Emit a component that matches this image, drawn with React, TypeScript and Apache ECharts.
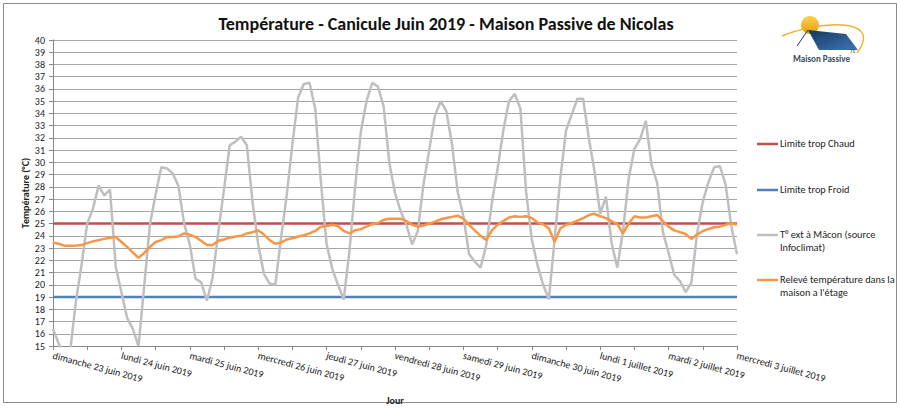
import React, { useEffect, useRef } from "react";
import * as echarts from "echarts";

// ---- Data ----
const dayLabels = [
  "dimanche 23 juin 2019",
  "lundi 24 juin 2019",
  "mardi 25 juin 2019",
  "mercredi 26 juin 2019",
  "jeudi 27 juin 2019",
  "vendredi 28 juin 2019",
  "samedi 29 juin 2019",
  "dimanche 30 juin 2019",
  "lundi 1 juillet 2019",
  "mardi 2 juillet 2019",
  "mercredi 3 juillet 2019",
];

const STEP_HOURS = 2; // one reading every 2 hours, starting dimanche 23 juin 00h

// T° ext à Mâcon (source Infoclimat)
const outdoorTemp = [
  16.4, 15.2, 14.2, 14.5, 18.6, 21.6, 25.0, 26.2, 28.1, 27.3, 27.8, 21.5,
  19.4, 17.3, 16.4, 15.0, 19.9, 24.9, 27.4, 29.6, 29.5, 29.1, 28.1, 25.0,
  23.3, 20.5, 20.2, 18.7, 20.6, 24.3, 27.8, 31.4, 31.7, 32.1, 31.4, 26.8,
  23.3, 20.9, 20.1, 20.0, 23.8, 27.3, 31.5, 35.3, 36.4, 36.5, 34.4, 28.4,
  23.3, 21.3, 20.0, 18.8, 22.7, 28.0, 32.5, 35.0, 36.5, 36.2, 34.6, 30.0,
  27.5, 26.0, 24.9, 23.3, 24.4, 28.2, 31.0, 33.8, 35.0, 34.2, 31.5, 27.6,
  25.6, 22.5, 21.9, 21.4, 23.2, 26.7, 29.5, 32.6, 35.0, 35.6, 34.4, 27.6,
  23.7, 21.6, 20.0, 18.8, 23.7, 28.7, 32.6, 33.9, 35.2, 35.2, 32.0, 29.3,
  25.8, 27.2, 23.4, 21.4, 24.4, 28.7, 31.1, 31.9, 33.4, 29.8, 28.3, 24.3,
  22.6, 20.8, 20.3, 19.4, 20.2, 24.2, 26.8, 28.4, 29.6, 29.7, 28.2, 24.8,
  22.5,
];

// Relevé température dans la maison a l'étage
const indoorTemp = [
  23.45, 23.35, 23.2, 23.2, 23.2, 23.25, 23.4, 23.55, 23.65, 23.75, 23.85, 23.9,
  23.5, 23.1, 22.65, 22.2, 22.6, 23.1, 23.5, 23.65, 23.9, 23.9, 23.95, 24.2,
  24.1, 23.9, 23.6, 23.25, 23.25, 23.6, 23.7, 23.85, 23.95, 24.0, 24.2, 24.3,
  24.45, 24.1, 23.65, 23.35, 23.45, 23.7, 23.8, 23.95, 24.05, 24.2, 24.4, 24.75,
  24.8, 24.9, 24.8, 24.4, 24.2, 24.45, 24.55, 24.75, 24.95, 25.05, 25.3, 25.4,
  25.4, 25.4, 25.2, 24.9, 24.75, 24.85, 25.0, 25.15, 25.35, 25.45, 25.55, 25.65,
  25.4, 24.9, 24.45, 24.0, 23.65, 24.45, 24.9, 25.2, 25.5, 25.6, 25.55, 25.6,
  25.45, 25.1, 24.95, 24.6, 23.5, 24.6, 24.9, 25.05, 25.25, 25.45, 25.7, 25.8,
  25.6, 25.45, 25.2, 24.95, 24.2, 25.0, 25.6, 25.5, 25.5, 25.6, 25.7, 25.2,
  24.75, 24.45, 24.3, 24.15, 23.75, 24.1, 24.4, 24.55, 24.7, 24.75, 24.9, 25.05,
  24.9,
];

const HOT_LIMIT = 25;
const COLD_LIMIT = 19;

const seriesNames = [
  "Limite trop Chaud",
  "Limite trop Froid",
  "T° ext à Mâcon (source Infoclimat)",
  "Relevé température dans la maison a l'étage",
];
const legendTexts = [
  "Limite trop Chaud",
  "Limite trop Froid",
  "T° ext à Mâcon (source\nInfoclimat)",
  "Relevé température dans la\nmaison a l'étage",
];
const seriesColors = ["#C0504D", "#4F81BD", "#BFBFBF", "#F79646"];

const TITLE = "Température - Canicule Juin 2019 - Maison Passive de Nicolas";
const Y_NAME = "Température (°C)";
const X_NAME = "Jour";

const FONT = "Carlito, Lato, 'Liberation Sans', sans-serif";

const hours = outdoorTemp.map((_, i) => i * STEP_HOURS);
const totalHours = (dayLabels.length - 1) * 24;

function pairs(values: number[]) {
  return values.map((v, i) => [hours[i], v]);
}

export default function App() {
  const ref = useRef<HTMLDivElement>(null);

  useEffect(() => {
    if (!ref.current) return;
    const chart = echarts.init(ref.current, undefined, { renderer: "svg" });

    const legendTops = [144, 190, 235, 280];
    const legendGraphics: any[] = [];
    legendTexts.forEach((t, i) => {
      legendGraphics.push({
        type: "line",
        shape: { x1: 757, y1: legendTops[i], x2: 778, y2: legendTops[i] },
        style: { stroke: seriesColors[i], lineWidth: 2.5 },
      });
      legendGraphics.push({
        type: "text",
        x: 780,
        y: legendTops[i] - 6.5,
        style: {
          text: t,
          fontSize: 10.3,
          fontFamily: FONT,
          fill: "#222",
          lineHeight: 12.5,
          textVerticalAlign: "top",
          verticalAlign: "top",
        },
      });
    });

    const option: any = {
      animation: false,
      backgroundColor: "#ffffff",
      textStyle: { fontFamily: FONT },
      title: {
        text: TITLE,
        left: 441,
        top: 10,
        textAlign: "center",
        textStyle: {
          fontFamily: FONT,
          fontSize: 18,
          fontWeight: "bold",
          color: "#111",
        },
      },
      grid: { left: 53, right: 163, top: 40, bottom: 61, containLabel: false },
      xAxis: {
        type: "value",
        min: 0,
        max: totalHours,
        interval: 12,
        name: X_NAME,
        nameLocation: "middle",
        nameGap: 49,
        nameTextStyle: {
          fontFamily: FONT,
          fontSize: 10,
          fontWeight: "bold",
          color: "#222",
        },
        axisLine: { show: true, lineStyle: { color: "#868686", width: 1 } },
        axisTick: { show: true, length: 4, lineStyle: { color: "#868686" } },
        splitLine: { show: false },
        axisLabel: {
          rotate: -15,
          margin: 9,
          fontSize: 10,
          fontFamily: FONT,
          color: "#222",
          showMinLabel: true,
          showMaxLabel: true,
          formatter: (v: number) =>
            v % 24 === 0 ? dayLabels[Math.round(v / 24)] ?? "" : "",
        },
      },
      yAxis: {
        type: "value",
        min: 15,
        max: 40,
        interval: 1,
        name: Y_NAME,
        nameLocation: "middle",
        nameRotate: 90,
        nameGap: 23,
        nameMoveOverlap: false,
        nameTextStyle: {
          fontFamily: FONT,
          fontSize: 10,
          fontWeight: "bold",
          color: "#222",
        },
        axisLine: { show: true, lineStyle: { color: "#868686", width: 1 } },
        axisTick: { show: true, length: 4, lineStyle: { color: "#868686" } },
        axisLabel: { fontSize: 10, fontFamily: FONT, color: "#222", margin: 8 },
        splitLine: { show: true, lineStyle: { color: "#A6A6A6", width: 1 } },
      },
      series: [
        {
          name: seriesNames[0],
          type: "line",
          data: pairs(hours.map(() => HOT_LIMIT)),
          showSymbol: false,
          symbol: "none",
          lineStyle: { color: seriesColors[0], width: 2.5 },
          itemStyle: { color: seriesColors[0] },
        },
        {
          name: seriesNames[1],
          type: "line",
          data: pairs(hours.map(() => COLD_LIMIT)),
          showSymbol: false,
          symbol: "none",
          lineStyle: { color: seriesColors[1], width: 2.5 },
          itemStyle: { color: seriesColors[1] },
        },
        {
          name: seriesNames[2],
          type: "line",
          data: pairs(outdoorTemp),
          showSymbol: false,
          symbol: "none",
          clip: true,
          lineStyle: { color: seriesColors[2], width: 2.5 },
          itemStyle: { color: seriesColors[2] },
        },
        {
          name: seriesNames[3],
          type: "line",
          data: pairs(indoorTemp),
          showSymbol: false,
          symbol: "none",
          lineStyle: { color: seriesColors[3], width: 2.5 },
          itemStyle: { color: seriesColors[3] },
        },
      ],
      graphic: [
        {
          type: "rect",
          shape: { x: 3.5, y: 3.5, width: 893, height: 399 },
          style: { fill: "none", stroke: "#8C8C8C", lineWidth: 1 },
          silent: true,
        },
        // logo: arc, sun, roof, text
        {
          type: "bezierCurve",
          shape: {
            x1: 782, y1: 36, cpx1: 815, cpy1: 22, cpx2: 885, cpy2: 15, x2: 857, y2: 53,
          },
          style: { stroke: "#F0B323", lineWidth: 1.4, fill: "none" },
        },
        {
          type: "circle",
          shape: { cx: 810, cy: 25, r: 9 },
          style: {
            fill: new echarts.graphic.LinearGradient(0, 0, 0, 1, [
              { offset: 0, color: "#F9D24B" },
              { offset: 1, color: "#E89B12" },
            ]),
          },
        },
        {
          type: "polygon",
          shape: { points: [[808, 30], [846, 34], [858, 50], [819, 50]] },
          style: {
            fill: new echarts.graphic.LinearGradient(0, 0, 1, 1, [
              { offset: 0, color: "#14365F" },
              { offset: 1, color: "#3F78B5" },
            ]),
          },
        },
        {
          type: "line",
          shape: { x1: 808, y1: 30, x2: 797, y2: 46 },
          style: { stroke: "#1F3864", lineWidth: 1 },
        },
        {
          type: "text",
          x: 793,
          y: 58,
          style: {
            text: "Maison Passive",
            fontSize: 9,
            fontWeight: "bold",
            fontFamily: FONT,
            fill: "#3A4A66",
            verticalAlign: "middle",
            textVerticalAlign: "middle",
          },
        },
        {
          type: "text",
          x: 850,
          y: 51,
          style: {
            text: "71",
            fontSize: 5,
            fontWeight: "bold",
            fontFamily: FONT,
            fill: "#3A4A66",
            verticalAlign: "middle",
            textVerticalAlign: "middle",
          },
        },
        ...legendGraphics,
      ],
    };

    chart.setOption(option);
    return () => chart.dispose();
  }, []);

  return (
    <div
      ref={ref}
      style={{ position: "fixed", left: 0, top: 0, width: 900, height: 410 }}
    />
  );
}
